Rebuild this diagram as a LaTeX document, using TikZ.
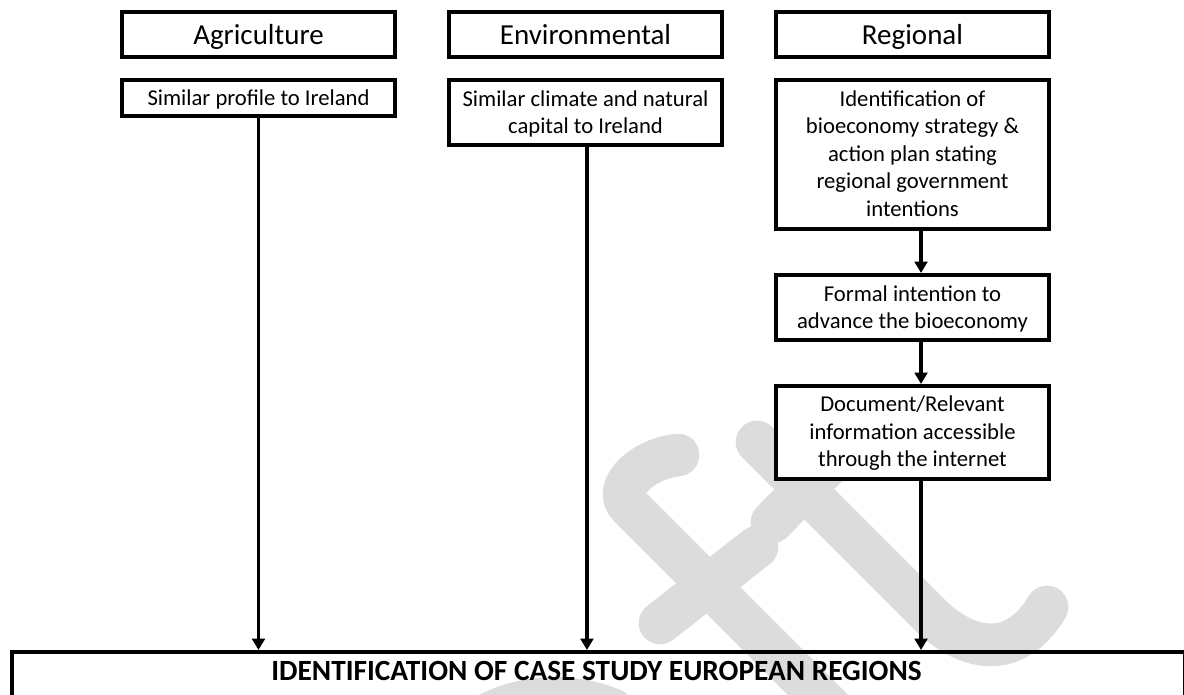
\documentclass[tikz,border=0pt]{standalone}
\usepackage{fontspec}
\setmainfont{Carlito}
\usetikzlibrary{arrows.meta,calc}
\definecolor{wmgray}{RGB}{220,220,220}
\begin{document}
\begin{tikzpicture}[x=0.75pt,y=-0.75pt,
  box/.style={draw, line width=3pt, fill=white, minimum width=204.75pt, inner sep=0pt, align=center, text depth=0pt, font=\fontsize{17}{20.6}\selectfont},
  head/.style={box, minimum height=33.75pt, text height=15.5pt, font=\fontsize{21.75}{26}\selectfont},
  arr/.style={line width=2.6pt, -{Triangle[length=8.5pt,width=9.5pt]}},
  wm/.style={line width=32pt, draw=wmgray, line cap=round}]
\useasboundingbox (0,0) rectangle (1184,695);
\clip (0,0) rectangle (1184,695);
% watermark
\draw[wm] (678,455) .. controls (645,458) and (610,487) .. (630,507) -- (830,707);
\draw[wm] (660,623) -- (757,547);
\draw[wm] (757,442) -- (930,615) .. controls (962,647) and (1012,665) .. (1047,607);
\draw[wm] (772,522) -- (830,463);
\draw[wm, line width=24pt] (470,720) .. controls (505,692) and (565,684) .. (615,705);
% headers
\node[head] (h1) at (258.5,34.5) {Agriculture};
\node[head] (h2) at (585.5,34.5) {Environmental};
\node[head] (h3) at (912.5,34.5) {Regional};
% criteria
\node[box, minimum height=27pt, text height=12pt] (a2) at (258.5,98) {Similar profile to Ireland};
\node[box, minimum height=48.75pt, text height=32pt] (e2) at (585.5,112.5) {Similar climate and natural\\capital to Ireland};
\node[box, minimum height=111.75pt, text height=92.5pt] (r2) at (912.5,154.5) {Identification of\\bioeconomy strategy \&\\action plan stating\\regional government\\intentions};
\node[box, minimum height=48.75pt, text height=31.5pt] (r3) at (912.5,307.5) {Formal intention to\\advance the bioeconomy};
\node[box, minimum height=69.75pt, text height=51pt] (r4) at (912.5,432.5) {Document/Relevant\\information accessible\\through the internet};
% bottom box
\node[draw, line width=3pt, minimum width=879.75pt, minimum height=60pt, anchor=north west, inner sep=0pt] (bot) at (10,650) {};
\node[font=\bfseries\fontsize{22}{26}\selectfont, anchor=base, inner sep=0pt] (bott) at (596.5,680) {IDENTIFICATION OF CASE STUDY EUROPEAN REGIONS};
% arrows
\draw[arr] (a2.south) -- (a2.south |- bot.north);
\draw[arr] ([xshift=1.1pt]e2.south) -- ([xshift=1.1pt]e2.south |- bot.north);
\draw[arr] ([xshift=6.4pt]r2.south) -- ([xshift=6.4pt]r3.north);
\draw[arr] ([xshift=6.4pt]r3.south) -- ([xshift=6.4pt]r4.north);
\draw[arr] ([xshift=6.4pt]r4.south) -- ([xshift=6.4pt]r4.south |- bot.north);
\end{tikzpicture}
\end{document}
